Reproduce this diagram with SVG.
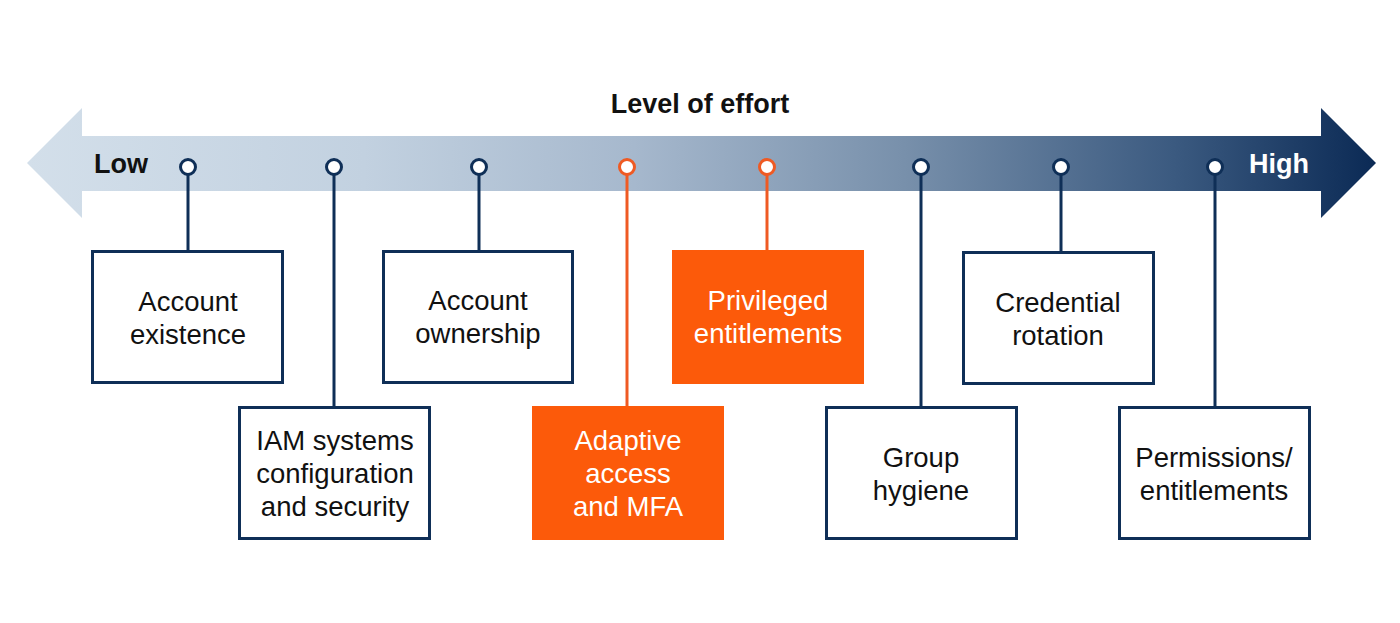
<svg xmlns="http://www.w3.org/2000/svg" width="1400" height="623" viewBox="0 0 1400 623">
<defs>
<linearGradient id="g" x1="27" y1="0" x2="1376" y2="0" gradientUnits="userSpaceOnUse">
<stop offset="0" stop-color="#d3dfea"/>
<stop offset="0.25" stop-color="#c2d1e0"/>
<stop offset="0.45" stop-color="#a6b8cd"/>
<stop offset="0.65" stop-color="#7890ab"/>
<stop offset="0.85" stop-color="#3b5a80"/>
<stop offset="1" stop-color="#0b2a55"/>
</linearGradient>
<style>
.box{fill:#fff;stroke:#0f2f57;stroke-width:3}
.obox{fill:#fc5a0a;stroke:none}
.t{font-family:"Liberation Sans",Arial,sans-serif;font-size:27.5px;fill:#111;text-anchor:middle}
.ot{font-family:"Liberation Sans",Arial,sans-serif;font-size:27.5px;fill:#fff;text-anchor:middle}
.b{font-family:"Liberation Sans",Arial,sans-serif;font-size:27px;font-weight:bold}
.ln{stroke:#0f2f57;stroke-width:3;fill:none}
.oln{stroke:#ef5a23;stroke-width:3;fill:none}
.dot{fill:#fff;stroke:#0f2f57;stroke-width:3}
.odot{fill:#fff;stroke:#ef5a23;stroke-width:3}
</style>
</defs>
<rect width="1400" height="623" fill="#fff"/>
<g id="axis">
<polygon points="27,163 82,108 82,136 1321,136 1321,108 1376,163 1321,218 1321,191 82,191 82,218" fill="url(#g)"/>
<text class="b" x="700" y="113" text-anchor="middle" fill="#111">Level of effort</text>
<text class="b" x="94" y="173" fill="#111">Low</text>
<text class="b" x="1249" y="173" fill="#fff">High</text>
</g>
<g id="connectors">
<line class="ln" x1="188" y1="175" x2="188" y2="251"/>
<line class="ln" x1="334" y1="175" x2="334" y2="407"/>
<line class="ln" x1="479" y1="175" x2="479" y2="251"/>
<line class="oln" x1="627" y1="175" x2="627" y2="406"/>
<line class="oln" x1="767" y1="175" x2="767" y2="250"/>
<line class="ln" x1="921" y1="175" x2="921" y2="407"/>
<line class="ln" x1="1061" y1="175" x2="1061" y2="252"/>
<line class="ln" x1="1215" y1="175" x2="1215" y2="407"/>
<circle class="dot" cx="188" cy="167" r="7.5"/>
<circle class="dot" cx="334" cy="167" r="7.5"/>
<circle class="dot" cx="479" cy="167" r="7.5"/>
<circle class="odot" cx="627" cy="167" r="7.5"/>
<circle class="odot" cx="767" cy="167" r="7.5"/>
<circle class="dot" cx="921" cy="167" r="7.5"/>
<circle class="dot" cx="1061" cy="167" r="7.5"/>
<circle class="dot" cx="1215" cy="167" r="7.5"/>
</g>
<g id="account-existence">
<rect class="box" x="92.5" y="251.5" width="190" height="131"/>
<text class="t" x="188" y="311">Account</text>
<text class="t" x="188" y="344">existence</text>
</g>
<g id="iam-systems">
<rect class="box" x="239.5" y="407.5" width="190" height="131"/>
<text class="t" x="335" y="450">IAM systems</text>
<text class="t" x="335" y="483">configuration</text>
<text class="t" x="335" y="516">and security</text>
</g>
<g id="account-ownership">
<rect class="box" x="383.5" y="251.5" width="189" height="131"/>
<text class="t" x="478" y="310">Account</text>
<text class="t" x="478" y="343">ownership</text>
</g>
<g id="adaptive-access">
<rect class="obox" x="532" y="406" width="192" height="134"/>
<text class="ot" x="628" y="450">Adaptive</text>
<text class="ot" x="628" y="483">access</text>
<text class="ot" x="628" y="516">and MFA</text>
</g>
<g id="privileged-entitlements">
<rect class="obox" x="672" y="250" width="192" height="134"/>
<text class="ot" x="768" y="310">Privileged</text>
<text class="ot" x="768" y="343">entitlements</text>
</g>
<g id="group-hygiene">
<rect class="box" x="826.5" y="407.5" width="190" height="131"/>
<text class="t" x="921" y="467">Group</text>
<text class="t" x="921" y="500">hygiene</text>
</g>
<g id="credential-rotation">
<rect class="box" x="963.5" y="252.5" width="190" height="131"/>
<text class="t" x="1058" y="312">Credential</text>
<text class="t" x="1058" y="345">rotation</text>
</g>
<g id="permissions">
<rect class="box" x="1119.5" y="407.5" width="190" height="131"/>
<text class="t" x="1214" y="467">Permissions/</text>
<text class="t" x="1214" y="500">entitlements</text>
</g>
</svg>
